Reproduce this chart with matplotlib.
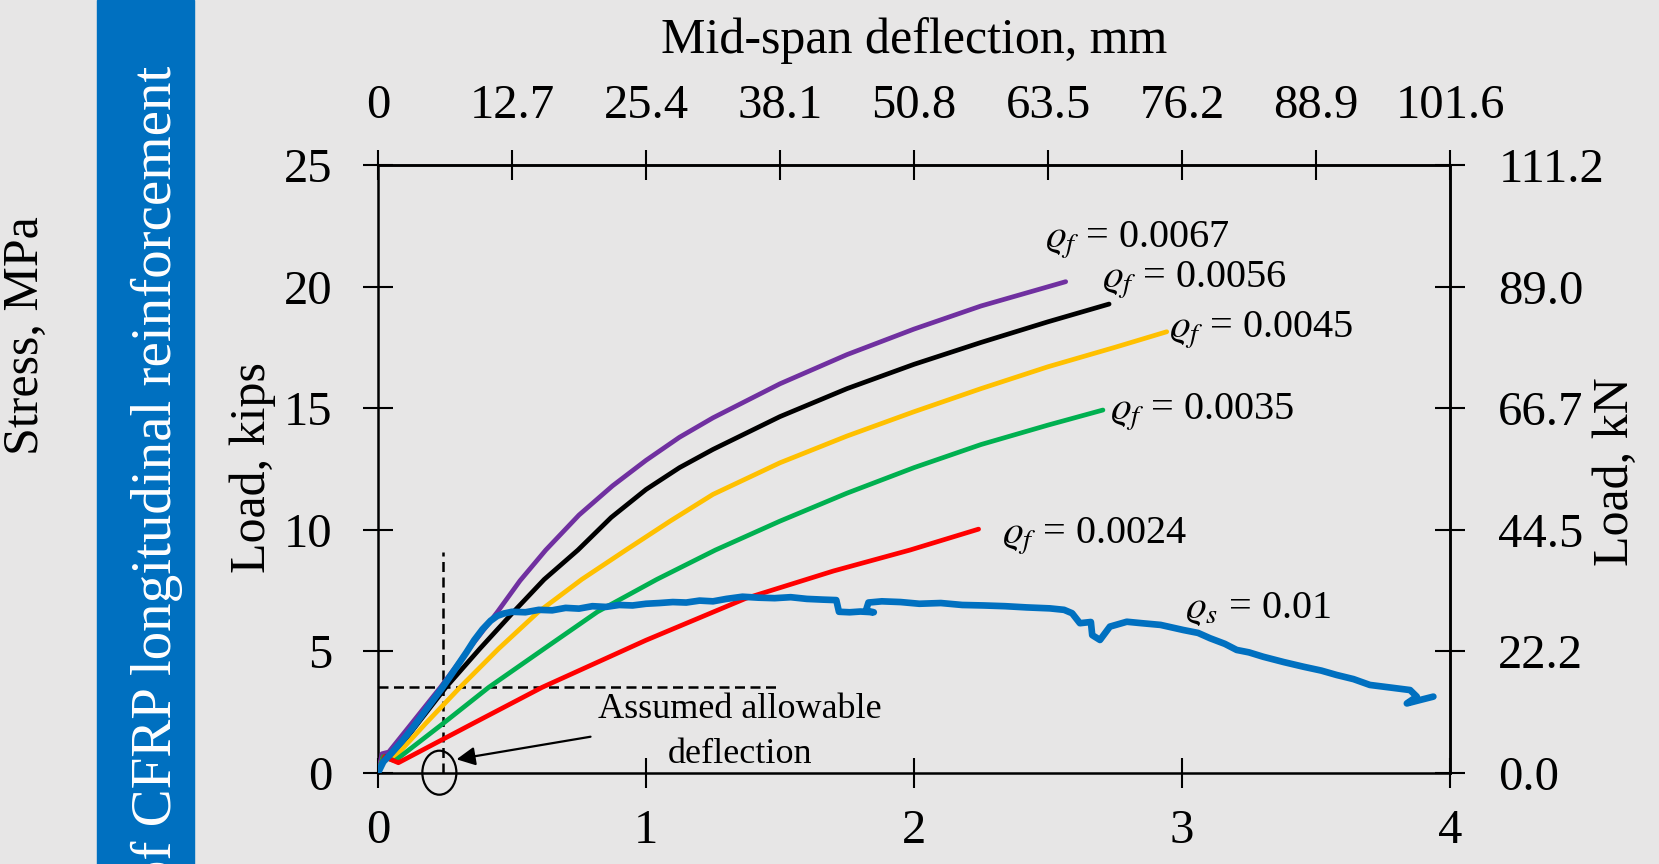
import matplotlib
matplotlib.use('Agg')
import matplotlib.pyplot as plt
from matplotlib.patches import Ellipse, Rectangle

# 字體設定
plt.rcParams['font.family'] = ['Liberation Serif', 'DejaVu Serif']
plt.rcParams['mathtext.fontset'] = 'stix'

# ---- 資料: 中跨撓度 (in) 與荷載 (kips) ----
purple_x = [0, 0.015, 0.04, 0.12, 0.233, 0.34, 0.446, 0.53, 0.626, 0.75, 0.875, 1.0, 1.125, 1.25,
            1.5, 1.75, 2.0, 2.25, 2.566]
purple_y = [0, 0.78, 0.85, 1.95, 3.51, 5.1, 6.62, 7.9, 9.16, 10.6, 11.8, 12.85, 13.8, 14.6,
            16.0, 17.2, 18.25, 19.2, 20.2]

black_x = [0, 0.02, 0.05, 0.15, 0.253, 0.38, 0.506, 0.62, 0.746, 0.87, 1.0, 1.125, 1.25, 1.5,
           1.75, 2.0, 2.25, 2.5, 2.728]
black_y = [0, 0.65, 0.62, 2.05, 3.51, 5.1, 6.62, 7.95, 9.16, 10.5, 11.65, 12.55, 13.3, 14.65,
           15.8, 16.8, 17.7, 18.55, 19.28]

yellow_x = [0, 0.02, 0.055, 0.18, 0.306, 0.45, 0.599, 0.76, 0.925, 1.09, 1.25, 1.5, 1.75, 2.0,
            2.25, 2.5, 2.75, 2.943]
yellow_y = [0, 0.65, 0.55, 2.05, 3.51, 5.1, 6.62, 7.95, 9.16, 10.35, 11.45, 12.75, 13.85, 14.85,
            15.8, 16.7, 17.5, 18.14]

green_x = [0, 0.02, 0.063, 0.24, 0.413, 0.62, 0.819, 1.04, 1.259, 1.5, 1.75, 2.0, 2.25, 2.5, 2.705]
green_y = [0, 0.65, 0.49, 2.0, 3.51, 5.1, 6.62, 7.95, 9.16, 10.35, 11.5, 12.55, 13.5, 14.3, 14.92]

red_x = [0, 0.025, 0.076, 0.35, 0.612, 1.0, 1.372, 1.7, 1.985, 2.241]
red_y = [0, 0.65, 0.41, 2.0, 3.51, 5.45, 7.17, 8.3, 9.16, 10.02]

steel_x = [0, 0.02, 0.05, 0.09, 0.13, 0.18, 0.239, 0.29, 0.33, 0.359, 0.39, 0.42, 0.445, 0.47,
           0.50, 0.55, 0.60, 0.65, 0.70, 0.75, 0.80, 0.85, 0.90, 0.95, 1.00, 1.05, 1.10, 1.15,
           1.20, 1.25, 1.30, 1.36, 1.42, 1.48, 1.54, 1.60, 1.66, 1.71, 1.72, 1.76, 1.80, 1.85,
           1.82, 1.83, 1.88, 1.95, 2.02, 2.10, 2.18, 2.26, 2.34, 2.42, 2.507, 2.56, 2.59, 2.619,
           2.66, 2.665, 2.694, 2.731, 2.794, 2.85, 2.92, 3.005, 3.06, 3.105, 3.16, 3.204, 3.25,
           3.303, 3.38, 3.453, 3.52, 3.577, 3.64, 3.701, 3.78, 3.851, 3.876, 3.839, 3.888, 3.938]
steel_y = [0, 0.45, 0.8, 1.3, 1.85, 2.6, 3.48, 4.3, 4.95, 5.45, 5.9, 6.25, 6.45, 6.55,
           6.62, 6.6, 6.7, 6.68, 6.78, 6.75, 6.85, 6.82, 6.9, 6.88, 6.95, 6.98, 7.02, 7.0,
           7.08, 7.05, 7.15, 7.24, 7.2, 7.18, 7.22, 7.15, 7.12, 7.1, 6.62, 6.6, 6.63, 6.6,
           6.65, 7.0, 7.05, 7.02, 6.95, 6.98, 6.9, 6.88, 6.85, 6.8, 6.76, 6.7, 6.56, 6.15,
           6.2, 5.66, 5.46, 6.01, 6.21, 6.15, 6.08, 5.87, 5.75, 5.53, 5.3, 5.05, 4.95,
           4.77, 4.55, 4.36, 4.2, 4.02, 3.85, 3.61, 3.5, 3.40, 3.13, 2.85, 2.99, 3.13]

series_labels = [r'$\varrho_f$ = 0.0067', r'$\varrho_f$ = 0.0056', r'$\varrho_f$ = 0.0045',
                 r'$\varrho_f$ = 0.0035', r'$\varrho_f$ = 0.0024', r'$\varrho_s$ = 0.01']
label_x = [2.49, 2.70, 2.95, 2.73, 2.33, 3.01]
label_y = [21.62, 19.97, 17.92, 14.51, 9.43, 6.36]

allow_defl = 0.242   # in
allow_load = 3.51    # kips

bottom_ticks = [0, 1, 2, 3, 4]
left_ticks = [0, 5, 10, 15, 20, 25]
top_mm_ticks = [0, 12.7, 25.4, 38.1, 50.8, 63.5, 76.2, 88.9, 101.6]
top_mm_labels = ['0', '12.7', '25.4', '38.1', '50.8', '63.5', '76.2', '88.9', '101.6']
right_kn_ticks = [0, 22.24, 44.48, 66.72, 88.96, 111.2]
right_kn_labels = ['0.0', '22.2', '44.5', '66.7', '89.0', '111.2']

BG = '#e7e6e6'
W, H = 1659, 864


def fx(px):
    return px / W


def fy(py):
    return 1 - py / H


fig = plt.figure(figsize=(W / 100, H / 100), dpi=100, facecolor=BG)
ax = fig.add_axes([fx(378), fy(772.7), (1450 - 378) / W, (772.7 - 165) / H])
ax.set_facecolor(BG)

# 曲線
colors = ['#7030a0', '#000000', '#ffc000', '#00b050', '#ff0000']
for xs, ys, c in zip([purple_x, black_x, yellow_x, green_x, red_x],
                     [purple_y, black_y, yellow_y, green_y, red_y], colors):
    ax.plot(xs, ys, color=c, lw=3.4, solid_capstyle='round', solid_joinstyle='round', zorder=3)
ax.plot(steel_x, steel_y, color='#0070c0', lw=4.8, solid_capstyle='round', solid_joinstyle='round', zorder=4)

for t, x, y in zip(series_labels, label_x, label_y):
    ax.text(x, y, t, fontsize=29, ha='left', va='baseline')

# 容許撓度
ax.plot([0, 1.505], [allow_load, allow_load], color='k', lw=1.8, ls=(0, (4, 2.2)), zorder=2)
ax.plot([allow_defl, allow_defl], [0, 9.07], color='k', lw=1.8, ls=(0, (4, 2.2)), zorder=2)
ax.add_patch(Ellipse((0.229, 0), 0.127, 1.81, fill=False, lw=1.6, color='k', clip_on=False, zorder=5))
ax.annotate('', xy=(0.293, 0.55), xytext=(0.793, 1.48),
            arrowprops=dict(arrowstyle='-|>', color='k', lw=1.6, mutation_scale=28, shrinkA=0, shrinkB=0))
ax.text(1.351, 1.68, 'Assumed allowable\ndeflection', fontsize=26, ha='center', va='center',
        multialignment='center', linespacing=1.5)

ax.set_xlim(0, 4)
ax.set_ylim(0, 25)
ax.set_xticks(bottom_ticks)
ax.set_yticks(left_ticks)
ax.tick_params(axis='x', direction='inout', length=21.6, width=1.5, labelsize=35, pad=15)
ax.tick_params(axis='y', direction='inout', length=21.6, width=1.5, labelsize=35, pad=22)
for s in ax.spines.values():
    s.set_linewidth(1.8)

secx = ax.secondary_xaxis('top', functions=(lambda v: v * 25.4, lambda v: v / 25.4))
secx.set_xticks(top_mm_ticks, labels=top_mm_labels)
secx.tick_params(direction='inout', length=21.6, width=1.5, labelsize=35, pad=16)
secx.spines['top'].set_linewidth(1.8)

secy = ax.secondary_yaxis('right', functions=(lambda v: v * 4.448, lambda v: v / 4.448))
secy.set_yticks(right_kn_ticks, labels=right_kn_labels)
secy.tick_params(direction='inout', length=21.6, width=1.5, labelsize=35, pad=24)
secy.spines['right'].set_linewidth(1.8)

# 軸標題
fig.text(fx(914), fy(53.3), 'Mid-span deflection, mm', ha='center', va='baseline', fontsize=36)
fig.text(fx(253), fy(468), 'Load, kips', rotation=90, ha='center', va='center', fontsize=36)
fig.text(fx(1616), fy(472), 'Load, kN', rotation=90, ha='center', va='center', fontsize=36)
fig.text(fx(26), fy(336), 'Stress, MPa', rotation=90, ha='center', va='center', fontsize=36)

# 左側藍色條
fig.add_artist(Rectangle((fx(97), 0), (194 - 97) / W, 1, transform=fig.transFigure,
                         color='#0070c0', zorder=0))
fig.text(fx(157), fy(66), 'of CFRP longitudinal reinforcement', rotation=90, ha='center', va='top',
         color='white', fontsize=41)

fig.savefig('out.png', dpi=100, facecolor=BG)
